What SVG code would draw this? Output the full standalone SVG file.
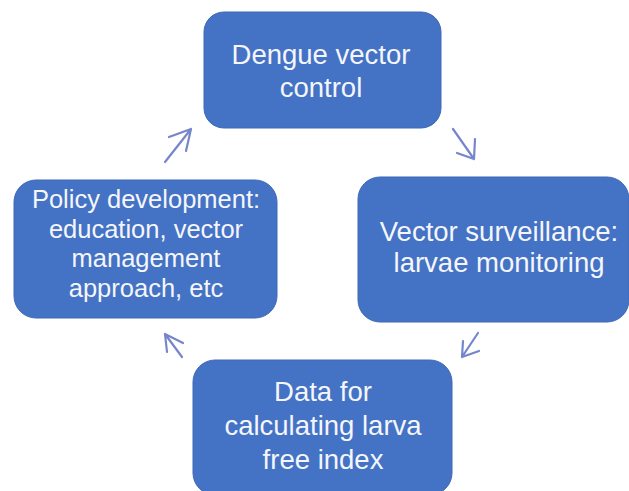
<svg xmlns="http://www.w3.org/2000/svg" width="629" height="491" viewBox="0 0 629 491">
<style>
.box{fill:#4472C4;stroke:#3f69b5;stroke-width:1}
.t{font-family:"Liberation Sans",Arial,sans-serif;font-size:27.5px;fill:#f4f6fb;text-anchor:middle}
.s{font-size:25.5px}
.arr{fill:none;stroke:#7686cc;stroke-width:2.2;stroke-linecap:round;stroke-linejoin:round}
</style>
<rect width="629" height="491" fill="#ffffff"/>
<g id="node-dengue">
<rect class="box" x="204" y="12" width="237" height="116" rx="20"/>
<text class="t" x="321" y="64">Dengue vector</text>
<text class="t" x="321" y="97">control</text>
</g>
<g id="node-surveillance">
<rect class="box" x="358" y="177" width="271" height="145" rx="22"/>
<text class="t" x="499" y="241">Vector surveillance:</text>
<text class="t" x="499" y="272">larvae monitoring</text>
</g>
<g id="node-data">
<rect class="box" x="193" y="360" width="259" height="135" rx="22"/>
<text class="t" x="323" y="401">Data for</text>
<text class="t" x="323" y="435">calculating larva</text>
<text class="t" x="323" y="469">free index</text>
</g>
<g id="node-policy">
<rect class="box" x="14" y="180" width="263" height="138" rx="22"/>
<text class="t s" x="146" y="208">Policy development:</text>
<text class="t s" x="146" y="237.5">education, vector</text>
<text class="t s" x="146" y="267">management</text>
<text class="t s" x="146" y="296.5">approach, etc</text>
</g>
<g id="connectors">
<path class="arr" d="M165,162 L191,129 M169,137 L191,129 L186,151"/>
<path class="arr" d="M453,129 L474,159 M457,153 L474,159 L475,139"/>
<path class="arr" d="M478,333 L462,357 M479,351 L462,357 L463,341"/>
<path class="arr" d="M182,357 L165,334 M183,343 L165,334 L167,352"/>
</g>
</svg>
